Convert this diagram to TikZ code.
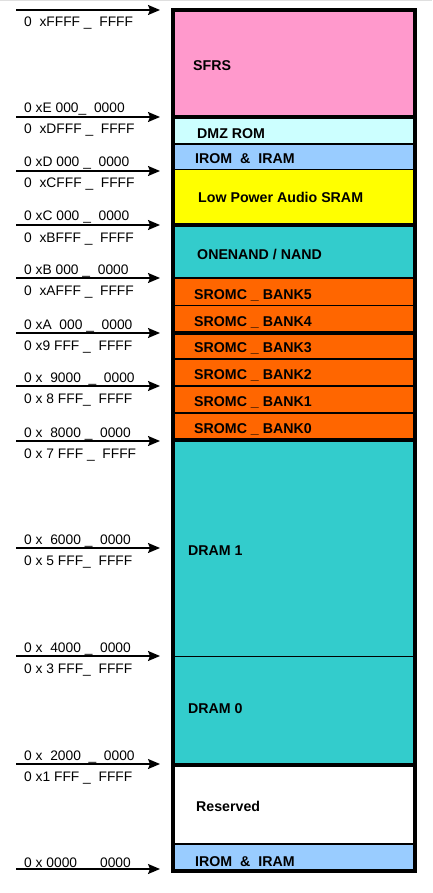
\documentclass[tikz,border=0pt]{standalone}
\usepackage{fontspec}
\setmainfont{Liberation Sans}
\usetikzlibrary{arrows.meta,positioning,calc}
\definecolor{cPink}{RGB}{255,153,204}
\definecolor{cIce}{RGB}{204,255,255}
\definecolor{cSky}{RGB}{153,204,255}
\definecolor{cYellow}{RGB}{255,255,0}
\definecolor{cTeal}{RGB}{51,204,204}
\definecolor{cOrange}{RGB}{255,102,0}
\tikzset{
  memblk/.style={rectangle,draw=black,line width=1.5pt,minimum width=242pt,
                 inner sep=0pt,outer sep=0pt},
  blklbl/.style={anchor=base west,inner sep=0pt,
                 font=\fontsize{14.2}{17}\selectfont\bfseries},
  addr/.style={anchor=base west,inner sep=0pt,
               font=\fontsize{13.8}{16}\selectfont},
  sepline/.style={line width=4pt,draw=black},
  outerline/.style={line width=4pt,draw=black},
  addrarr/.style={-{Stealth[length=12pt,width=10pt,inset=2pt]},
                  line width=1.5pt,shorten >=13pt}
}
\begin{document}
\begin{tikzpicture}[x=1pt,y=-1pt]
  \useasboundingbox (0,0) rectangle (432,893);
  \draw[gray!25,line width=1pt] (0,0.5) -- (432,0.5);

  % memory blocks, top to bottom
  \node[memblk,fill=cPink,minimum height=107pt] (sfrs) at (294,63.5) {};
  \node[memblk,fill=cIce,minimum height=27pt] (dmz) at (294,130.5) {};
  \node[memblk,fill=cSky,minimum height=25.5pt] (iromhi) at (294,156.75) {};
  \node[memblk,fill=cYellow,minimum height=55.5pt] (audio) at (294,197.25) {};
  \node[memblk,fill=cTeal,minimum height=53pt] (nand) at (294,251.5) {};
  \foreach \n/\ytop/\ybot in {5/278/305.5,4/305.5/333,3/333/359,
                              2/359/386,1/386/413,0/413/439.5}{
    \pgfmathsetmacro{\bmid}{(\ytop+\ybot)/2}
    \pgfmathsetmacro{\bht}{\ybot-\ytop}
    \node[memblk,fill=cOrange,minimum height=\bht pt] (bank\n) at (294,\bmid) {};
    \node[blklbl] (bank\n lbl) at (194,\ybot-6.5) {SROMC \_ BANK\n};
  }
  \node[memblk,fill=cTeal,minimum height=217pt] (dram1) at (294,548) {};
  \node[memblk,fill=cTeal,minimum height=108pt] (dram0) at (294,710.5) {};
  \node[memblk,fill=white,minimum height=79.5pt] (rsvd) at (294,804.25) {};
  \node[memblk,fill=cSky,minimum height=27pt] (iromlo) at (294,857.5) {};

  % block names
  \node[blklbl] (sfrslbl) at (193,71) {SFRS};
  \node[blklbl] (dmzlbl) at (197,139) {DMZ ROM};
  \node[blklbl] (iromhilbl) at (195,164) {IROM \ \& \ IRAM};
  \node[blklbl] (audiolbl) at (198,203) {Low Power Audio SRAM};
  \node[blklbl] (nandlbl) at (197,259) {ONENAND / NAND};
  \node[blklbl] (dram1lbl) at (188,555) {DRAM 1};
  \node[blklbl] (dram0lbl) at (188,713) {DRAM 0};
  \node[blklbl] (rsvdlbl) at (196,811) {Reserved};
  \node[blklbl] (iromlolbl) at (195,866) {IROM \ \& \ IRAM};

  % heavy separators and frame
  \foreach \b in {dmz,nand,bank3,dram1,rsvd}
    \draw[sepline] (\b.north west) -- (\b.north east);
  \draw[outerline] (sfrs.north west) rectangle (iromlo.south east);

  % address arrows
  \coordinate (atop) at (16,10);
  \draw[addrarr] (atop) -- (atop -| sfrs.west);
  \node[addr] (lotop) at (24,27) {0 \ xFFFF \_ \ FFFF};
  \foreach \y/\hi/\lo [count=\i] in {
      117/{0 xE 000\_ \ 0000}/{0 \ xDFFF \_ \ FFFF},
      171/{0 xD 000 \_ \ 0000}/{0 \ xCFFF \_ \ FFFF},
      225/{0 xC 000 \_ \ 0000}/{0 \ xBFFF \_ \ FFFF},
      278/{0 xB 000 \_ \ 0000}/{0 \ xAFFF \_ \ FFFF},
      333/{0 xA \ 000 \_ \ 0000}/{0 x9 FFF \_ \ FFFF},
      386/{0 x \ 9000 \ \_ \ 0000}/{0 x 8 FFF\_ \ FFFF},
      441/{0 x \ 8000 \_ \ 0000}/{0 x 7 FFF \_ \ FFFF},
      548/{0 x \ 6000 \_ \ 0000}/{0 x 5 FFF\_ \ FFFF},
      656/{0 x \ 4000 \_ \ 0000}/{0 x 3 FFF\_ \ FFFF},
      764/{0 x \ 2000 \ \_ \ 0000}/{0 x1 FFF \_ \ FFFF}}{
    \coordinate (a\i) at (16,\y);
    \draw[addrarr] (a\i) -- (a\i -| sfrs.west);
    \node[addr] (hi\i) at (24,\y-4) {\hi};
    \node[addr] (lo\i) at (24,\y+17) {\lo};
  }
  \coordinate (abot) at (16,869);
  \draw[addrarr] (abot) -- (abot -| sfrs.west);
  \node[addr] (hibot) at (24,867) {0 x 0000 \ \_ \ 0000};
\end{tikzpicture}
\end{document}
